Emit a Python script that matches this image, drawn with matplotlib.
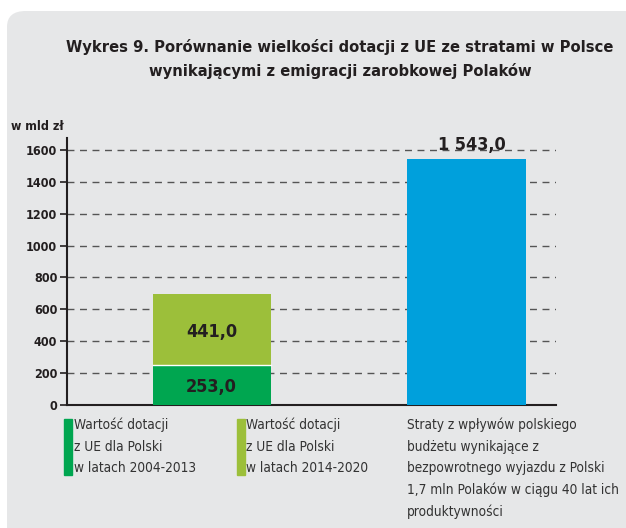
import matplotlib.pyplot as plt
from matplotlib.patches import FancyBboxPatch

# data (mld zł)
dotacje_2004_2013 = [253.0, 0]
dotacje_2014_2020 = [441.0, 0]
straty = [0, 1543.0]
yticks = [0, 200, 400, 600, 800, 1000, 1200, 1400, 1600]
legend_labels = ['Wartość dotacji\nz UE dla Polski\nw latach 2004-2013',
                 'Wartość dotacji\nz UE dla Polski\nw latach 2014-2020',
                 'Straty z wpływów polskiego\nbudżetu wynikające z\nbezpowrotnego wyjazdu z Polski\n'
                 '1,7 mln Polaków w ciągu 40 lat ich\nproduktywności']
title = 'Wykres 9. Porównanie wielkości dotacji z UE ze stratami w Polsce\nwynikającymi z emigracji zarobkowej Polaków'

c_dark = '#00a650'
c_light = '#9cbf3a'
c_blue = '#00a0dc'
bg = '#e6e7e8'
txt = '#231f20'

plt.rcParams['font.family'] = ['DejaVu Sans']
plt.rcParams['font.stretch'] = 'condensed'

W, H = 626, 528
fig = plt.figure(figsize=(W / 100, H / 100), dpi=100)
fig.patch.set_facecolor('white')

box = FancyBboxPatch((7 / W, -0.1), 1.2, 1.1 - 11 / H,
                     boxstyle='round,pad=0,rounding_size=0.03',
                     transform=fig.transFigure, facecolor=bg, edgecolor='none', zorder=-5)
fig.patches.append(box)

ax = fig.add_axes([67 / W, (H - 405) / H, (556 - 67) / W, (405 - 138) / H])
ax.set_facecolor('none')

x = [0, 1]
w = 0.463
ax.bar(x, dotacje_2004_2013, w, color=c_dark, zorder=3)
ax.bar(x, dotacje_2014_2020, w, bottom=dotacje_2004_2013, color=c_light, zorder=3)
ax.bar(x, straty, w, color=c_blue, zorder=3)
# thin white seam between stacked parts
ax.plot([x[0] - w / 2, x[0] + w / 2], [dotacje_2004_2013[0]] * 2, color='white', lw=1, zorder=4)

ax.text(x[0], dotacje_2004_2013[0] / 2 - 15, '253,0', ha='center', va='center',
        fontsize=13, fontweight='bold', color=txt, zorder=5)
ax.text(x[0], dotacje_2004_2013[0] + dotacje_2014_2020[0] / 2 - 15, '441,0', ha='center', va='center',
        fontsize=13, fontweight='bold', color=txt, zorder=5)
ax.text(x[1] + 0.02, straty[1] + 55, '1 543,0', ha='center', va='baseline',
        fontsize=13, fontweight='bold', color=txt, zorder=5)

ax.set_xlim(-0.567, 1.351)
ax.set_ylim(0, 1675)
ax.set_xticks([])
ax.set_yticks(yticks)
ax.set_yticklabels([str(v) for v in yticks], fontweight='bold', fontsize=9, color=txt)
ax.tick_params(axis='y', length=5, width=1.2, color=txt, pad=2)
for v in yticks[1:]:
    ax.axhline(v, color='#555555', lw=1, ls=(0, (5, 4)), zorder=1)
for s in ['top', 'right']:
    ax.spines[s].set_visible(False)
for s in ['left', 'bottom']:
    ax.spines[s].set_color(txt)
    ax.spines[s].set_linewidth(1.5)

fig.text(11 / W, 1 - 126 / H, 'w mld zł', fontsize=9, fontweight='bold', color=txt, va='center')
fig.text(340 / W, 1 - 59 / H, title, ha='center', va='center', fontsize=11.8,
         fontweight='bold', color=txt, linespacing=1.65)

# legend: colored strips + labels under the axis
strip_x = [64, 237, None]
text_x = [74, 246, 407]
colors = [c_dark, c_light, None]
for sx, tx, c, lab in zip(strip_x, text_x, colors, legend_labels):
    if c is not None:
        fig.patches.append(plt.Rectangle((sx / W, 1 - 475 / H), 8 / W, 56 / H,
                                         transform=fig.transFigure, color=c))
    fig.text(tx / W, 1 - 418 / H, lab, ha='left', va='top', fontsize=9.8,
             color='#333333', linespacing=1.65)

fig.savefig('out.png', dpi=100)
